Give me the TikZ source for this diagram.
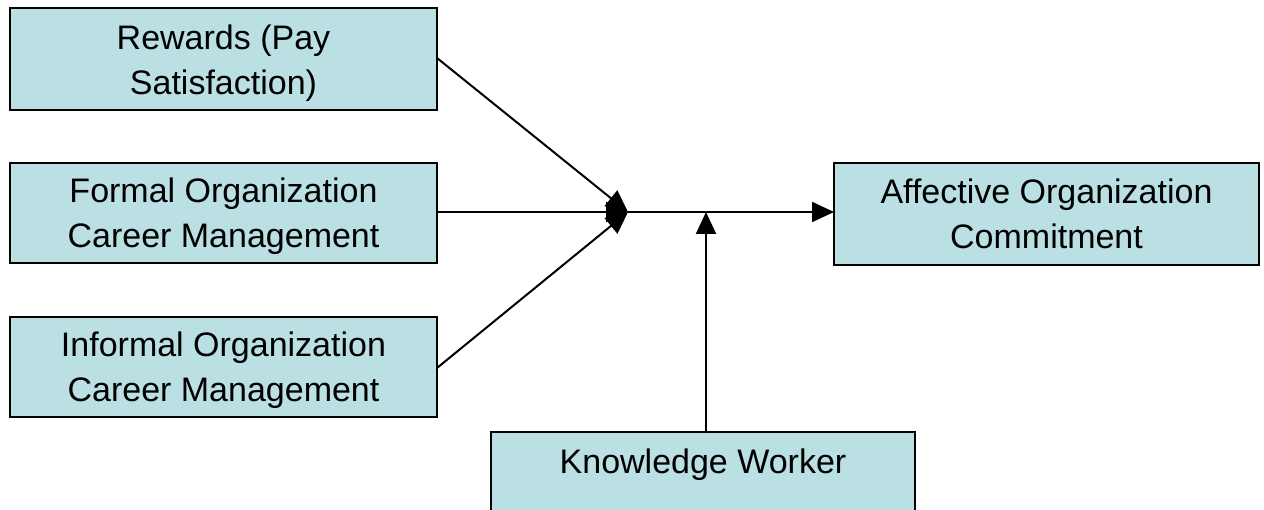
\documentclass[tikz,border=0pt]{standalone}
\usepackage{fontspec}
\setmainfont{Liberation Sans}
\usetikzlibrary{arrows.meta}
\definecolor{boxfill}{HTML}{BAE0E3}
\begin{document}
\begin{tikzpicture}[x=1pt,y=-1pt,
  box/.style={draw=black,line width=2pt,fill=boxfill},
  lbl/.style={font=\fontsize{34}{45}\selectfont,align=center,inner sep=0pt},
  conn/.style={line width=2pt,-{Triangle[length=22pt,width=20pt]}}]
\useasboundingbox (0,0) rectangle (1264,510);
\begin{scope}
\clip (0,0) rectangle (1264,510);
\draw[box] (10,8) rectangle (437,110);
\draw[box] (10,163) rectangle (437,263);
\draw[box] (10,317) rectangle (437,417);
\draw[box] (834,163) rectangle (1259,265);
\draw[box] (491,432) rectangle (915,535);
\end{scope}
\node[lbl] (rew) at (223.5,63) {Rewards (Pay\\Satisfaction)};
\node[lbl] (for) at (223.5,216) {Formal Organization\\Career Management};
\node[lbl] (inf) at (223.5,370) {Informal Organization\\Career Management};
\node[lbl] (aff) at (1046.5,214) {Affective Organization\\Commitment};
\node[lbl,anchor=north] (kw) at (703,449) {Knowledge Worker};
\coordinate (rewE) at (437,58);
\coordinate (forE) at (437,212);
\coordinate (infE) at (437,368);
\coordinate (affW) at (834,212);
\coordinate (j) at (628,212);
\coordinate (k) at (706,212);
\coordinate (kwN) at (706,432);
\draw[conn] (rewE) -- (j);
\draw[conn] (forE) -- (j);
\draw[conn] (infE) -- (j);
\draw[conn] (j) -- (affW);
\draw[conn] (kwN) -- (k);
\end{tikzpicture}
\end{document}
